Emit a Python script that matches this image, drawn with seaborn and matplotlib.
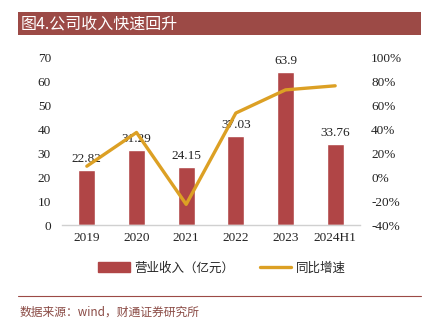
import matplotlib
matplotlib.use("Agg")
import matplotlib.pyplot as plt
import matplotlib.patches as mpatches
import matplotlib.lines as mlines
import seaborn as sns
import pandas as pd

categories = ["2019", "2020", "2021", "2022", "2023", "2024H1"]
revenue = [22.82, 31.29, 24.15, 37.03, 63.9, 33.76]
growth = [9.0, 37.1, -22.8, 53.3, 72.6, 76.0]
left_ticks = [0, 10, 20, 30, 40, 50, 60, 70]
right_ticks = [-40, -20, 0, 20, 40, 60, 80, 100]

df = pd.DataFrame({"year": categories, "revenue": revenue, "growth": growth})

sns.set_theme(style="white")
plt.rcParams["font.family"] = ["Liberation Serif", "Noto Sans CJK SC"]

BAR = "#b04546"
LINE = "#dca024"
RED = "#9c4a46"

fig = plt.figure(figsize=(4.29, 3.21), dpi=100)
fig.patch.set_facecolor("white")
ax = fig.add_axes([62/429, 1-225/321, (360-62)/429, (225-57)/321])

sns.barplot(data=df, x="year", y="revenue", color=BAR, width=0.34, ax=ax, saturation=1)
ax.set_ylim(0, 70)
ax.set_yticks(left_ticks)
ax.set_xlabel("")
ax.set_ylabel("")
for i, v in enumerate(revenue):
    ax.text(i, v + 2.0, f"{v:g}", ha="center", va="bottom", fontsize=9.5,
            family="Liberation Serif", color="#222222")

ax2 = ax.twinx()
sns.lineplot(x=list(range(len(categories))), y=growth, color=LINE, linewidth=2.4, ax=ax2)
ax2.set_ylim(-40, 100)
ax2.set_yticks(right_ticks)
ax2.set_yticklabels([f"{t}%" for t in right_ticks])
ax.set_xlim(-0.5, 5.5)

for a in (ax, ax2):
    for s in a.spines.values():
        s.set_visible(False)
    a.tick_params(length=0, labelsize=9.5, colors="#222222")
ax.spines["bottom"].set_visible(True)
ax.spines["bottom"].set_color("#d0d0d0")
ax.spines["bottom"].set_linewidth(1)
ax.tick_params(axis="y", pad=8)
ax2.tick_params(axis="y", pad=8)
ax.tick_params(axis="x", pad=5)

# Title bar
fig.patches.append(mpatches.Rectangle((18/429, 1-35/321), (421-18)/429, 23/321,
                                      transform=fig.transFigure, facecolor=RED,
                                      edgecolor="none"))
fig.text(21/429, 1-24/321, "图4.公司收入快速回升", color="white", fontsize=11.5,
         va="center", ha="left", family=["Noto Sans CJK SC"])

# Legend
h1 = mpatches.Patch(color=BAR, label="营业收入（亿元）")
h2 = mlines.Line2D([], [], color=LINE, linewidth=2.4, label="同比增速")
fig.legend(handles=[h1, h2], loc="center", bbox_to_anchor=(222/429, 1-268/321), ncol=2,
           frameon=False, handlelength=2.5, columnspacing=2.0, handletextpad=0.4,
           handleheight=0.9,
           prop={"family": ["Noto Sans CJK SC"], "size": 9})

# Footer
fig.add_artist(mlines.Line2D([18/429, 421/429], [1-296/321, 1-296/321],
                             transform=fig.transFigure, color=RED, linewidth=0.8))
fig.text(20/429, 1-312/321, "数据来源：wind，财通证券研究所", color="#8a4a44", fontsize=8.5,
         va="center", ha="left", family=["Noto Sans CJK SC"])

fig.savefig("out.png", dpi=100)
